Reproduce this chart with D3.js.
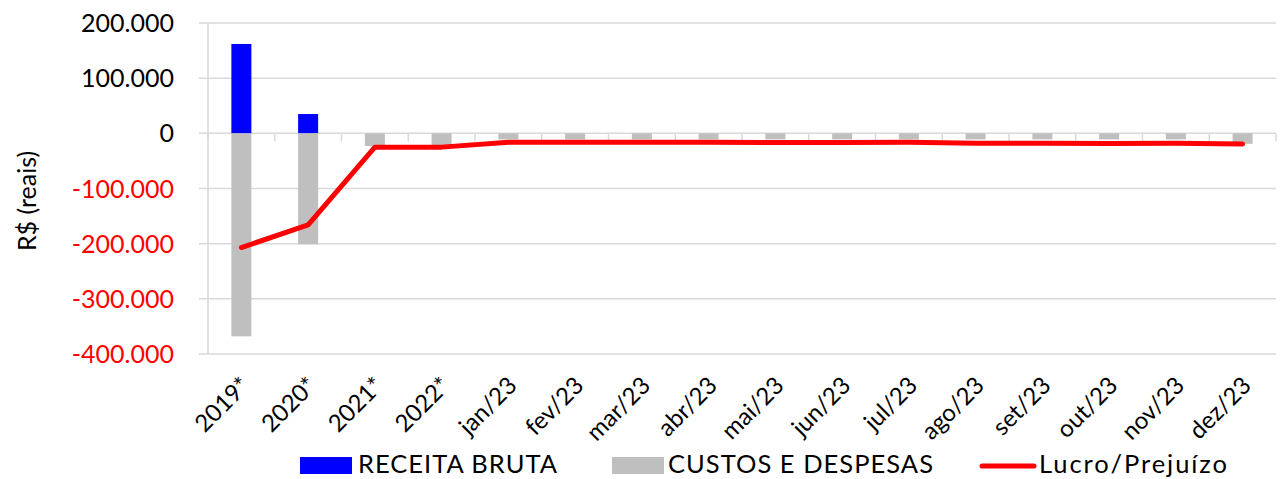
<!DOCTYPE html>
<html>
<head>
<meta charset="utf-8">
<script src="https://cdn.jsdelivr.net/npm/d3@7"></script>
<style>
  html, body { margin: 0; padding: 0; background: #fff; }
  svg { display: block; font-family: Lato, "Open Sans", sans-serif; }
</style>
</head>
<body>
<div id="chart"></div>
<script>
const categories = ['2019*', '2020*', '2021*', '2022*', 'jan/23', 'fev/23', 'mar/23', 'abr/23',
  'mai/23', 'jun/23', 'jul/23', 'ago/23', 'set/23', 'out/23', 'nov/23', 'dez/23'];
const receitaBruta = [162000, 35000, 0, 0, 0, 0, 0, 0, 0, 0, 0, 0, 0, 0, 0, 0];
const custosDespesas = [-368000, -201000, -23000, -22000, -11000, -11000, -11000, -11000,
  -11000, -11000, -11000, -11000, -11000, -11000, -11000, -19000];
const lucroPrejuizo = [-207000, -166000, -25000, -25000, -16000, -16000, -16000, -16000,
  -16500, -16500, -16000, -18000, -18000, -18500, -18000, -19500];
const yTicks = [200000, 100000, 0, -100000, -200000, -300000, -400000];
const legendItems = ['RECEITA BRUTA', 'CUSTOS E DESPESAS', 'Lucro/Prejuízo'];

const width = 1284, height = 479;
const plot = { left: 208, right: 1276, top: 23, bottom: 354 };

const locale = d3.formatLocale({ decimal: ',', thousands: '.', grouping: [3], currency: ['R$', ''], minus: '-' });
const fmt = locale.format(',');

const svg = d3.select('#chart').append('svg')
  .attr('width', width)
  .attr('height', height);

const x = d3.scaleBand()
  .domain(categories)
  .range([plot.left, plot.right])
  .paddingInner(0)
  .paddingOuter(0);

const y = d3.scaleLinear()
  .domain([-400000, 200000])
  .range([plot.bottom, plot.top]);

const gridColor = '#d9d9d9';

// horizontal gridlines (extend a bit left as tick marks)
svg.append('g')
  .selectAll('line')
  .data(yTicks)
  .enter().append('line')
  .attr('x1', plot.left - 9)
  .attr('x2', plot.right)
  .attr('y1', d => y(d))
  .attr('y2', d => y(d))
  .attr('stroke', gridColor)
  .attr('stroke-width', 1.5);

// value axis line
svg.append('line')
  .attr('x1', plot.left).attr('x2', plot.left)
  .attr('y1', y(200000)).attr('y2', y(-400000))
  .attr('stroke', gridColor)
  .attr('stroke-width', 1.5);

// y tick labels
svg.append('g')
  .selectAll('text')
  .data(yTicks)
  .enter().append('text')
  .attr('x', 174)
  .attr('y', d => y(d))
  .attr('dy', '0.36em')
  .attr('text-anchor', 'end')
  .attr('font-size', 25)
  .attr('fill', d => d < 0 ? '#ff0000' : '#000')
  .text(d => fmt(d));

// y axis title
svg.append('text')
  .attr('transform', 'translate(36,201) rotate(-90)')
  .attr('text-anchor', 'middle')
  .attr('font-size', 25)
  .attr('fill', '#000')
  .text('R$ (reais)');

const barW = x.bandwidth() * 0.3;

svg.append('g')
  .selectAll('rect')
  .data(categories)
  .enter().append('rect')
  .attr('x', d => x(d) + x.bandwidth() / 2 - barW / 2)
  .attr('width', barW)
  .attr('y', (d, i) => y(Math.max(0, receitaBruta[i])))
  .attr('height', (d, i) => Math.abs(y(receitaBruta[i]) - y(0)))
  .attr('fill', '#0000ff');

svg.append('g')
  .selectAll('rect')
  .data(categories)
  .enter().append('rect')
  .attr('x', d => x(d) + x.bandwidth() / 2 - barW / 2)
  .attr('width', barW)
  .attr('y', (d, i) => y(Math.max(0, custosDespesas[i])))
  .attr('height', (d, i) => Math.abs(y(custosDespesas[i]) - y(0)))
  .attr('fill', '#bfbfbf');

// category axis at zero with tick marks
const y0 = y(0);
const boundaries = categories.map(d => x(d)).concat([plot.right]);
svg.append('g')
  .selectAll('line')
  .data(boundaries)
  .enter().append('line')
  .attr('x1', d => d).attr('x2', d => d)
  .attr('y1', y0).attr('y2', y0 + 8)
  .attr('stroke', gridColor)
  .attr('stroke-width', 1.5);

// line series
const line = d3.line()
  .x((d, i) => x(categories[i]) + x.bandwidth() / 2)
  .y(d => y(d));

svg.append('path')
  .datum(lucroPrejuizo)
  .attr('d', line)
  .attr('fill', 'none')
  .attr('stroke', '#ff0000')
  .attr('stroke-width', 5)
  .attr('stroke-linejoin', 'round')
  .attr('stroke-linecap', 'round');

// x labels, rotated
svg.append('g')
  .selectAll('text')
  .data(categories)
  .enter().append('text')
  .attr('transform', d => `translate(${x(d) + x.bandwidth() / 2 + 4},${plot.bottom + 27}) rotate(-45)`)
  .attr('text-anchor', 'end')
  .attr('dy', '0.35em')
  .attr('font-size', 24)
  .attr('fill', '#000')
  .text(d => d);

// legend
const legend = svg.append('g');
const base = 473;
legend.append('rect').attr('x', 300).attr('y', 457).attr('width', 52).attr('height', 17).attr('fill', '#0000ff');
legend.append('text').attr('x', 358).attr('y', base).attr('font-size', 25.5)
  .attr('textLength', 199).attr('lengthAdjust', 'spacing').text(legendItems[0]);
legend.append('rect').attr('x', 612).attr('y', 457).attr('width', 52).attr('height', 17).attr('fill', '#bfbfbf');
legend.append('text').attr('x', 668).attr('y', base).attr('font-size', 25.5)
  .attr('textLength', 265).attr('lengthAdjust', 'spacing').text(legendItems[1]);
legend.append('line').attr('x1', 982).attr('x2', 1034).attr('y1', 466).attr('y2', 466)
  .attr('stroke', '#ff0000').attr('stroke-width', 5).attr('stroke-linecap', 'round');
legend.append('text').attr('x', 1039).attr('y', base).attr('font-size', 25.5)
  .attr('textLength', 188).attr('lengthAdjust', 'spacing').text(legendItems[2]);
</script>
</body>
</html>
